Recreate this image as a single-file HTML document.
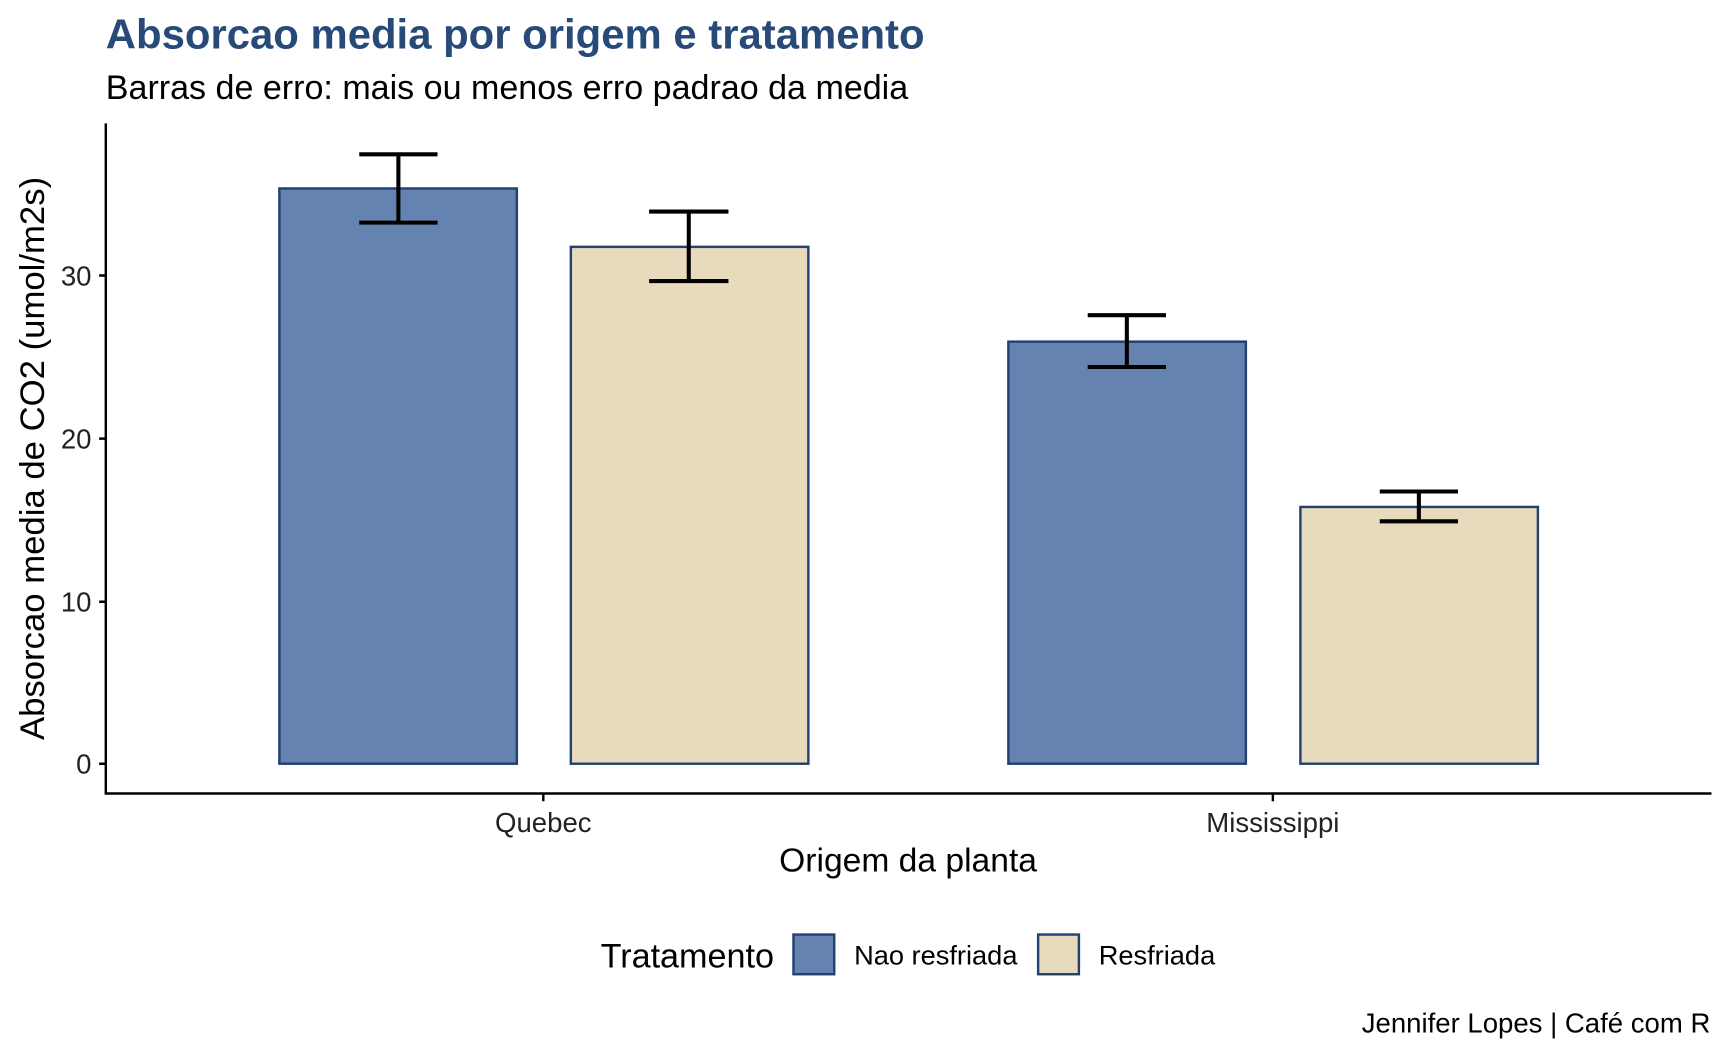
<!DOCTYPE html>
<html><head><meta charset="utf-8"><style>html,body{margin:0;padding:0;background:#fff}svg{display:block}</style></head>
<body>
<svg width="1728" height="1056" viewBox="0 0 1568 958.2" preserveAspectRatio="none" xmlns="http://www.w3.org/2000/svg" font-family="Liberation Sans, sans-serif">
<rect width="1568" height="958.2" fill="#fff"/>
<text x="96" y="44" font-size="38" font-weight="bold" fill="#284a78">Absorcao media por origem e tratamento</text>
<text x="96" y="90" font-size="30.9" fill="#000">Barras de erro: mais ou menos erro padrao da media</text>
<g stroke="#234170" stroke-width="2.2">
<rect x="253.5" y="171" width="215.5" height="522" fill="#6583b0"/>
<rect x="518" y="224" width="215.5" height="469" fill="#e8dabd"/>
<rect x="915" y="310" width="215.5" height="383" fill="#6583b0"/>
<rect x="1180" y="460" width="215.5" height="233" fill="#e8dabd"/>
</g>
<g stroke="#000" stroke-width="3.7" fill="none">
<path d="M326 140H397M326 202H397M361.5 140V202"/>
<path d="M589 192H661M589 255H661M625 192V255"/>
<path d="M987 286H1058M987 333H1058M1022.5 286V333"/>
<path d="M1252 446H1323M1252 473H1323M1287.5 446V473"/>
</g>
<g stroke="#000" stroke-width="2.2">
<path d="M96 112V721M95 720H1553"/>
<path d="M90 693H96M90 546H96M90 398H96M90 250H96"/>
<path d="M493 720V727M1155 720V727"/>
</g>
<g font-size="25" fill="#222" text-anchor="end">
<text x="83" y="702">0</text><text x="83" y="555">10</text><text x="83" y="407">20</text><text x="83" y="259">30</text>
</g>
<g font-size="25" fill="#222" text-anchor="middle">
<text x="493" y="755">Quebec</text><text x="1155" y="755">Mississippi</text>
</g>
<text x="824" y="791" font-size="30.5" text-anchor="middle">Origem da planta</text>
<text transform="translate(40,416) rotate(-90)" font-size="31.5" text-anchor="middle">Absorcao media de CO2 (umol/m2s)</text>
<text x="545" y="878" font-size="31">Tratamento</text>
<rect x="720" y="848" width="37" height="36" fill="#6583b0" stroke="#234170" stroke-width="2.2"/>
<text x="775" y="875" font-size="24.7">Nao resfriada</text>
<rect x="942" y="848" width="37" height="36" fill="#e8dabd" stroke="#234170" stroke-width="2.2"/>
<text x="997" y="875" font-size="24.7">Resfriada</text>
<text x="1552" y="937" font-size="25" text-anchor="end">Jennifer Lopes | Café com R</text>
</svg>
</body></html>
